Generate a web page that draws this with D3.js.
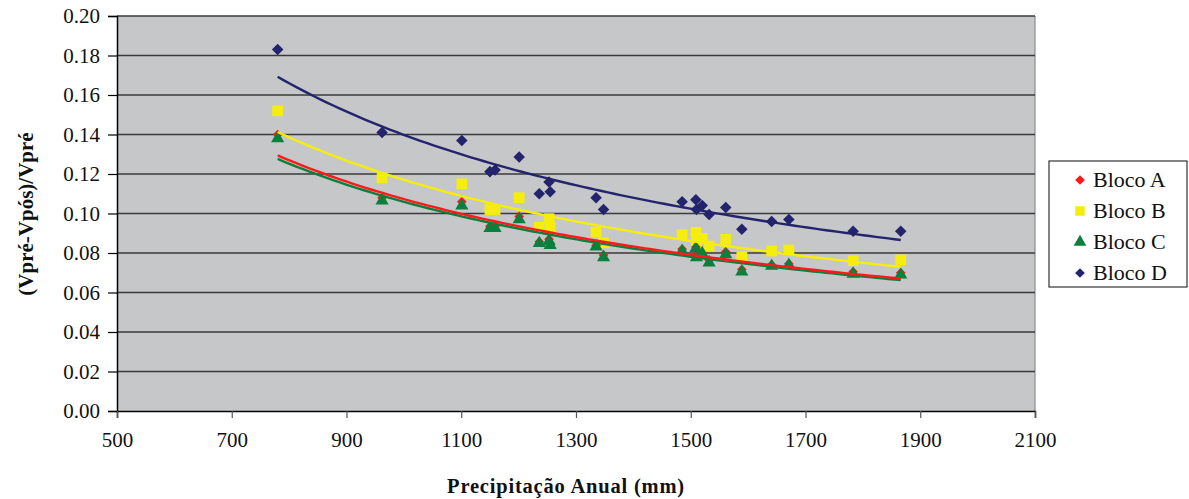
<!DOCTYPE html>
<html><head><meta charset="utf-8">
<script src="https://cdn.jsdelivr.net/npm/d3@7"></script>
<style>html,body{margin:0;padding:0;background:#fff;} svg{display:block;}</style>
</head><body>
<svg id="chart" width="1189" height="499"></svg>
<script>
// Precipitação anual (mm) per station
const precip = [780, 962, 1101, 1150, 1159, 1201, 1236, 1253, 1255, 1335, 1348, 1485, 1509, 1510, 1520, 1532, 1561, 1589, 1641, 1671, 1783, 1866];
const blocoA = [0.140, 0.108, 0.106, 0.0935, 0.0935, 0.0985, 0.0857, 0.087, 0.085, 0.0838, 0.079, 0.082, 0.083, 0.079, 0.080, 0.0764, 0.0806, 0.0717, 0.074, 0.0745, 0.0705, 0.070];
const blocoB = [0.152, 0.118, 0.115, 0.102, 0.102, 0.108, 0.093, 0.0974, 0.0933, 0.0906, 0.0852, 0.0893, 0.0905, 0.0857, 0.0874, 0.0835, 0.0869, 0.078, 0.081, 0.0815, 0.0761, 0.0765];
const blocoC = [0.138, 0.1065, 0.104, 0.0925, 0.0925, 0.097, 0.0849, 0.086, 0.084, 0.0832, 0.0778, 0.081, 0.0824, 0.0778, 0.0798, 0.0751, 0.0793, 0.0705, 0.0734, 0.0739, 0.0694, 0.069];
const blocoD = [0.183, 0.141, 0.137, 0.1212, 0.122, 0.1286, 0.110, 0.116, 0.111, 0.108, 0.102, 0.106, 0.107, 0.102, 0.104, 0.0995, 0.103, 0.092, 0.096, 0.097, 0.091, 0.091];
const seriesNames = ["Bloco A", "Bloco B", "Bloco C", "Bloco D"];
const xTicks = [500, 700, 900, 1100, 1300, 1500, 1700, 1900, 2100];
const yTicks = [0, 0.02, 0.04, 0.06, 0.08, 0.10, 0.12, 0.14, 0.16, 0.18, 0.20];
const xTitle = "Precipitação Anual (mm)";
const yTitle = "(Vpré-Vpós)/Vpré";

const series = [
  {name: seriesNames[0], values: blocoA, color: "#ff1a1a", shape: "diamondA"},
  {name: seriesNames[1], values: blocoB, color: "#f5ee0c", shape: "square"},
  {name: seriesNames[2], values: blocoC, color: "#0c7f3c", shape: "triangle"},
  {name: seriesNames[3], values: blocoD, color: "#24246e", shape: "diamondD"}
];

const svg = d3.select("#chart");
const L = 117, R = 1035, T = 16, B = 411;
const x = d3.scaleLinear().domain([500, 2100]).range([L, R]);
const y = d3.scaleLinear().domain([0, 0.20]).range([B, T]);
const font = "'Liberation Serif','Times New Roman',serif";

// plot background
svg.append("rect").attr("x", L).attr("y", T).attr("width", R - L).attr("height", B - T).attr("fill", "#c6c7c9");
// right border
svg.append("line").attr("x1", R).attr("x2", R).attr("y1", T).attr("y2", B).attr("stroke", "#8a8a8a").attr("stroke-width", 1.2);

// gridlines
svg.append("g").selectAll("line").data(yTicks.filter(d => d > 0)).join("line")
  .attr("x1", L).attr("x2", R).attr("y1", d => y(d)).attr("y2", d => y(d))
  .attr("stroke", "#3a3a3a").attr("stroke-width", 1.4);

// y axis
const yAxis = d3.axisLeft(y).tickValues(yTicks).tickFormat(d3.format(".2f")).tickSize(9).tickPadding(8);
const gy = svg.append("g").attr("transform", `translate(${L},0)`).call(yAxis);
gy.select(".domain").attr("stroke", "#000").attr("stroke-width", 1.5);
gy.selectAll(".tick line").attr("stroke", "#000").attr("stroke-width", 1.2);
gy.selectAll("text").attr("font-family", font).attr("font-size", 21).attr("fill", "#111");

// x axis
const xAxis = d3.axisBottom(x).tickValues(xTicks).tickFormat(d3.format("d")).tickSize(7).tickPadding(14);
const gx = svg.append("g").attr("transform", `translate(0,${B})`).call(xAxis);
gx.select(".domain").attr("stroke", "#000").attr("stroke-width", 1.5);
gx.selectAll(".tick line").attr("stroke", "#555").attr("stroke-width", 1.2);
gx.selectAll("text").attr("font-family", font).attr("font-size", 21).attr("fill", "#111");

// titles
svg.append("text").attr("x", 566).attr("y", 493).attr("text-anchor", "middle")
  .attr("font-family", font).attr("font-size", 20.5).attr("font-weight", "bold").attr("letter-spacing", 0.8).attr("fill", "#111").text(xTitle);
svg.append("text").attr("transform", "translate(33,214) rotate(-90)").attr("text-anchor", "middle")
  .attr("font-family", font).attr("font-size", 21).attr("font-weight", "bold").attr("fill", "#111").text(yTitle);

// marker symbol generators
function markerPath(shape) {
  if (shape === "diamondD") return d3.symbol().type(d3.symbolDiamond2).size(85)();
  if (shape === "diamondA") return d3.symbol().type(d3.symbolDiamond2).size(60)();
  if (shape === "square") return d3.symbol().type(d3.symbolSquare).size(115)();
  return d3.symbol().type(d3.symbolTriangle).size(75)();
}

// power-law trend (least squares on ln x, ln y)
function powerFit(xs, ys) {
  const lx = xs.map(Math.log), ly = ys.map(Math.log);
  const mx = d3.mean(lx), my = d3.mean(ly);
  const b = d3.sum(lx.map((v, i) => (v - mx) * (ly[i] - my))) / d3.sum(lx.map(v => (v - mx) ** 2));
  const a = Math.exp(my - b * mx);
  return xv => a * Math.pow(xv, b);
}

// markers
const drawOrder = [3, 1, 0, 2];
drawOrder.forEach(si => {
  const s = series[si];
  svg.append("g").selectAll("path").data(precip.map((p, i) => [p, s.values[i]])).join("path")
    .attr("d", markerPath(s.shape))
    .attr("transform", d => `translate(${x(d[0])},${y(d[1])})`)
    .attr("fill", s.color);
});

// trendlines
const xmin = d3.min(precip), xmax = d3.max(precip);
const samples = d3.range(0, 101).map(i => xmin + (xmax - xmin) * i / 100);
const lineOrder = [3, 1, 2, 0];
lineOrder.forEach(si => {
  const s = series[si];
  const f = powerFit(precip, s.values);
  svg.append("path").datum(samples)
    .attr("d", d3.line().x(d => x(d)).y(d => y(f(d))))
    .attr("fill", "none").attr("stroke", s.color).attr("stroke-width", 2.4);
});

// legend
const lg = svg.append("g");
lg.append("rect").attr("x", 1049).attr("y", 161).attr("width", 138).attr("height", 126)
  .attr("fill", "#fff").attr("stroke", "#333").attr("stroke-width", 1.2);
const legendShape = {diamondA: d3.symbol().type(d3.symbolDiamond2).size(60)(), square: d3.symbol().type(d3.symbolSquare).size(90)(), triangle: d3.symbol().type(d3.symbolTriangle).size(70)(), diamondD: d3.symbol().type(d3.symbolDiamond2).size(60)()};
series.forEach((s, i) => {
  const cy = 180 + i * 31;
  lg.append("path").attr("d", legendShape[s.shape]).attr("transform", `translate(1080,${cy})`).attr("fill", s.color);
  lg.append("text").attr("x", 1093).attr("y", cy + 7).attr("font-family", font).attr("font-size", 22).attr("fill", "#111").text(s.name);
});
</script>
</body></html>
